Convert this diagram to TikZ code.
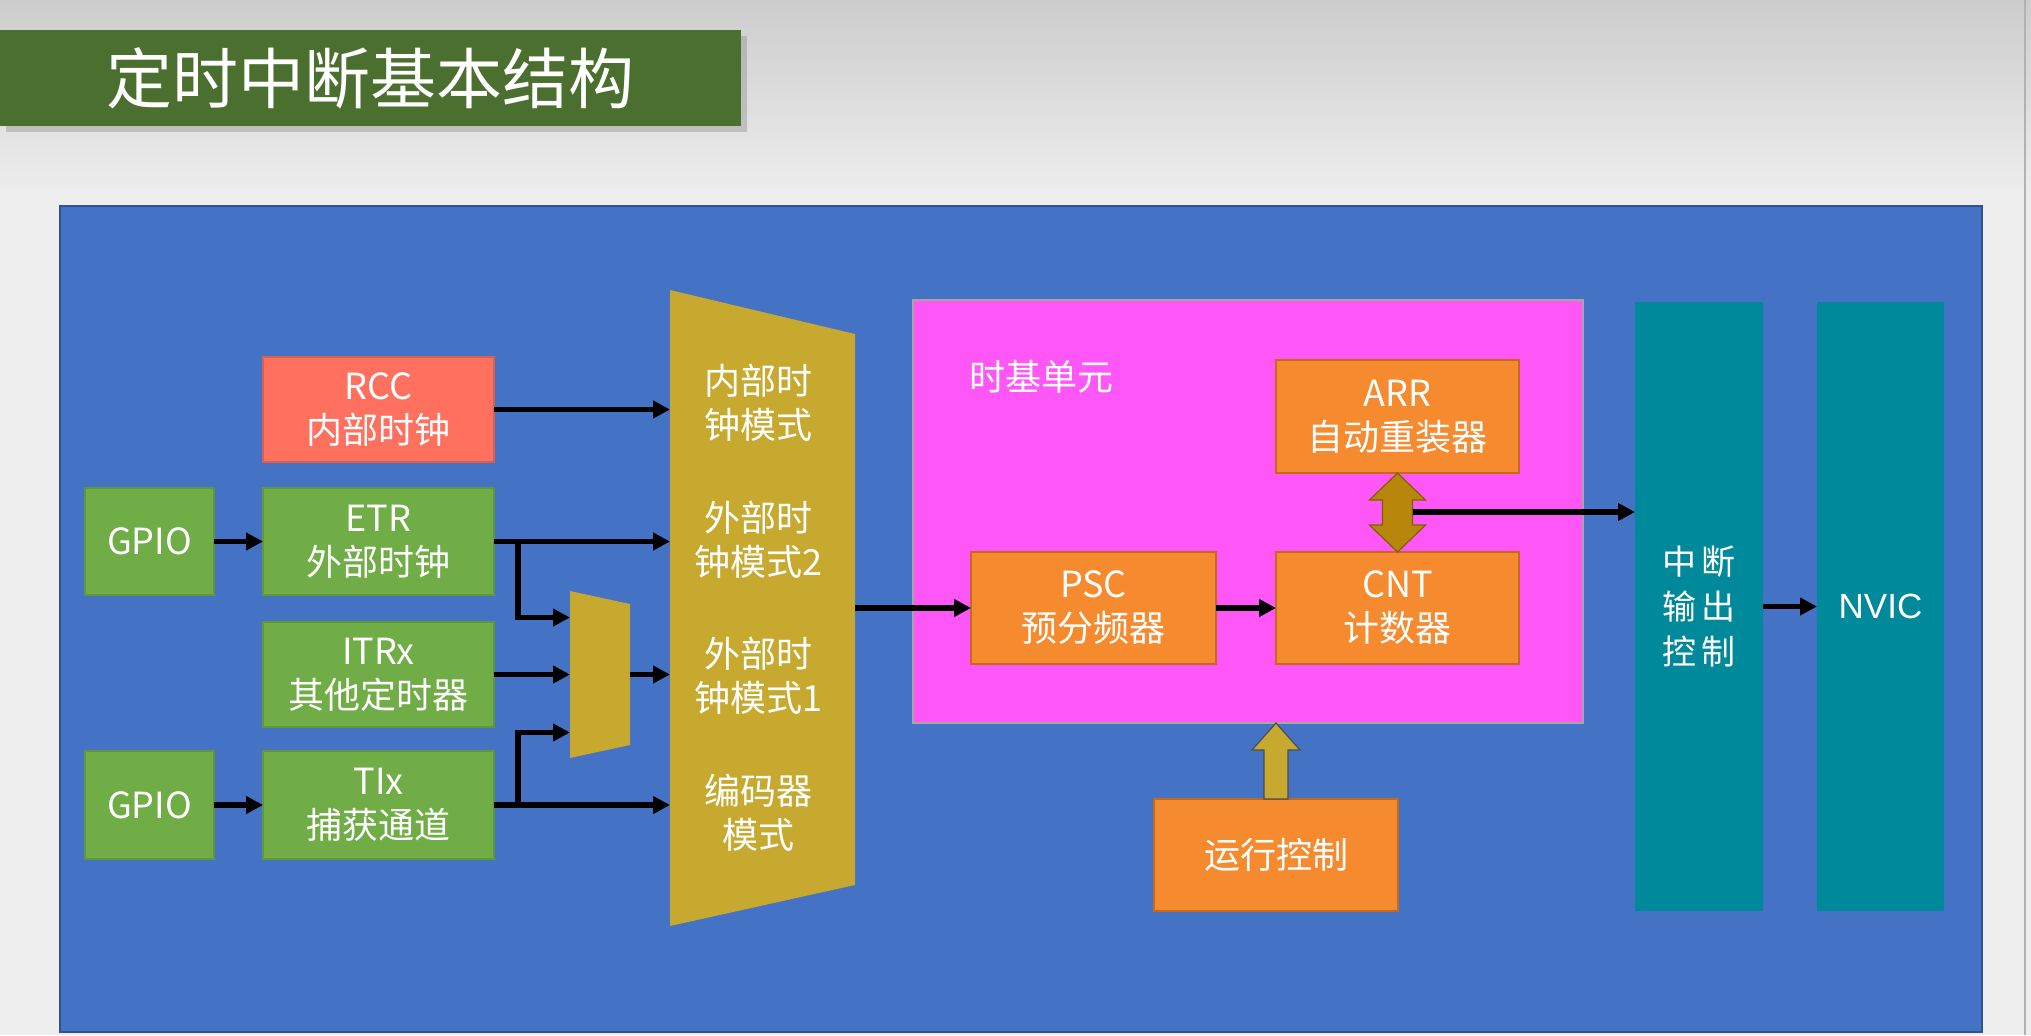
\documentclass[tikz,border=0pt]{standalone}
\usepackage{fontspec}
\setmainfont{Noto Sans CJK SC}
\newfontfamily\arialf{Liberation Sans}
\usetikzlibrary{arrows.meta,fit,shadows,calc}
\definecolor{pagebg}{HTML}{EEEEEE}
\definecolor{pagetop}{HTML}{CDCDCD}
\definecolor{titlegreen}{HTML}{4B6F2E}
\definecolor{panelblue}{HTML}{4472C4}
\definecolor{panelblueD}{HTML}{2F528F}
\definecolor{salmon}{HTML}{FF705E}
\definecolor{cgreen}{HTML}{70AD47}
\definecolor{cgreenD}{HTML}{5E9838}
\definecolor{muxgold}{HTML}{C8A92F}
\definecolor{magent}{HTML}{FF57F7}
\definecolor{corange}{HTML}{F58A2E}
\definecolor{corangeD}{HTML}{C46A1E}
\definecolor{dgold}{HTML}{B8860B}
\definecolor{dgoldD}{HTML}{7F6000}
\definecolor{cteal}{HTML}{00899A}
\begin{document}
\begin{tikzpicture}[x=0.5pt,y=-0.5pt,
  box/.style={rectangle, inner sep=0pt, outer sep=0pt, align=center, text=white,
    font=\fontsize{18}{22}\selectfont},
  wh/.style 2 args={minimum width=#1, minimum height=#2},
  greenbox/.style={box, fill=cgreen, draw=cgreenD, line width=0.6pt},
  rccbox/.style={box, fill=salmon, draw=salmon!85!black, line width=0.6pt},
  orangebox/.style={box, fill=corange, draw=corangeD, line width=0.8pt},
  tealbox/.style={box, fill=cteal},
  muxtext/.style={align=center, text=white, font=\fontsize{18}{22}\selectfont},
  arr/.style={line width=2.8pt, -{Triangle[length=8.5pt,width=8.5pt]}},
  ]
\useasboundingbox (0,0) rectangle (2031,1035);
% page background
\fill[pagebg] (0,0) rectangle (2031,1035);
\shade[top color=pagetop, bottom color=pagebg] (0,0) rectangle (2031,200);
\draw[gray!60, line width=0.6pt] (2025,0) -- (2025,1035);
% title
\node[box, fill=titlegreen, wh={370.5pt}{48pt},
  drop shadow={shadow xshift=3pt, shadow yshift=-3pt, opacity=0.35},
  font=\fontsize{33}{40}\selectfont] (title) at (370.5,78) {定时中断基本结构};
% blue panel
\node[box, fill=panelblue, draw=panelblueD, line width=0.8pt,
  wh={961pt}{413pt}] (panel) at (1021,619) {};
% left source boxes
\node[rccbox, wh={115.5pt}{52.5pt}] (rcc) at (378.5,409.5) {RCC\\内部时钟};
\node[greenbox, wh={64.5pt}{53.5pt}] (gpio1) at (149.5,541.5) {GPIO};
\node[greenbox, wh={115.5pt}{53.5pt}] (etr) at (378.5,541.5) {ETR\\外部时钟};
\node[greenbox, wh={115.5pt}{52.5pt}] (itrx) at (378.5,674.5) {ITRx\\其他定时器};
\node[greenbox, wh={64.5pt}{54pt}] (gpio2) at (149.5,805) {GPIO};
\node[greenbox, wh={115.5pt}{54pt}] (tix) at (378.5,805) {TIx\\捕获通道};
% multiplexers
\node[inner sep=0pt, outer sep=0pt, fit={(670,290) (855,926)}] (bigmux) {};
\fill[muxgold] (670,290) -- (855,334) -- (855,885) -- (670,926) -- cycle;
\node[muxtext] (m1) at (758,403) {内部时\\钟模式};
\node[muxtext] (m2) at (758,540) {外部时\\钟模式2};
\node[muxtext] (m3) at (758,676) {外部时\\钟模式1};
\node[muxtext] (m4) at (758,813) {编码器\\模式};
\node[inner sep=0pt, outer sep=0pt, fit={(570,591) (630,758)}] (smallmux) {};
\fill[muxgold] (570,591) -- (630,604) -- (630,745) -- (570,758) -- cycle;
% time base unit
\node[box, fill=magent, draw=gray!70, line width=0.8pt,
  wh={335pt}{211.5pt}] (tb) at (1248,511.5) {};
\node[anchor=west, text=white, font=\fontsize{18}{22}\selectfont, inner sep=0pt] (tblabel) at (969,377) {时基单元};
\node[orangebox, wh={122.5pt}{56pt}] (psc) at (1093.5,608) {PSC\\预分频器};
\node[orangebox, wh={121.5pt}{56pt}] (cnt) at (1397.5,608) {CNT\\计数器};
\node[orangebox, wh={121.5pt}{56.5pt}] (arrbox) at (1397.5,416.5) {ARR\\自动重装器};
\node[orangebox, wh={122pt}{56pt}] (run) at (1276,855) {运行控制};
% interrupt output and NVIC
\node[tealbox, wh={64pt}{304.5pt}, font=\fontsize{17}{22.5}\selectfont] (ctrl) at (1699,606.5) {中\,断\\输\,出\\控\,制};
\node[tealbox, wh={63.5pt}{304.5pt}, font=\arialf\fontsize{17.5}{21}\selectfont] (nvic) at (1880.5,606.5) {NVIC};
% connectors on the left
\draw[arr] (rcc.east) -- (rcc.east -| bigmux.west);
\draw[arr] (gpio1) -- (etr);
\draw[arr] (etr.east) -- (etr.east -| bigmux.west);
\coordinate (j1) at ($(etr.east)+(24,0)$);
\coordinate (sm1) at ($(smallmux.west)+(0,-57)$);
\draw[arr] (j1) |- (sm1);
\draw[arr] (itrx.east) -- (itrx.east -| smallmux.west);
\draw[arr] (smallmux.east |- itrx.east) -- (itrx.east -| bigmux.west);
\draw[arr] (gpio2) -- (tix);
\draw[arr] (tix.east) -- (tix.east -| bigmux.west);
\coordinate (j2) at ($(tix.east)+(24,0)$);
\coordinate (sm3) at ($(smallmux.west)+(0,58)$);
\draw[arr] (j2) |- (sm3);
% time base connectors
\draw[arr] (bigmux.east |- psc.west) -- (psc.west);
\draw[arr] (psc) -- (cnt);
\filldraw[fill=dgold, draw=dgoldD, line width=0.6pt]
  (arrbox.south) -- ++(28,27) -- ++(-13,0) -- ++(0,25) -- ++(13,0)
  -- (cnt.north) -- ++(-28,-27) -- ++(13,0) -- ++(0,-25) -- ++(-13,0) -- cycle;
\coordinate (dj) at ($(arrbox.south)+(15,39)$);
\draw[arr] (dj) -- (dj -| ctrl.west);
\filldraw[fill=muxgold, draw=gray!60!black, line width=0.6pt]
  ($(run.north)+(-12,0)$) -- ++(0,-49) -- ++(-12,0) -- (run.north |- tb.south)
  -- ++(24,27) -- ++(-12,0) -- ++(0,49) -- cycle;
\draw[arr] (ctrl) -- (nvic);
\end{tikzpicture}
\end{document}
